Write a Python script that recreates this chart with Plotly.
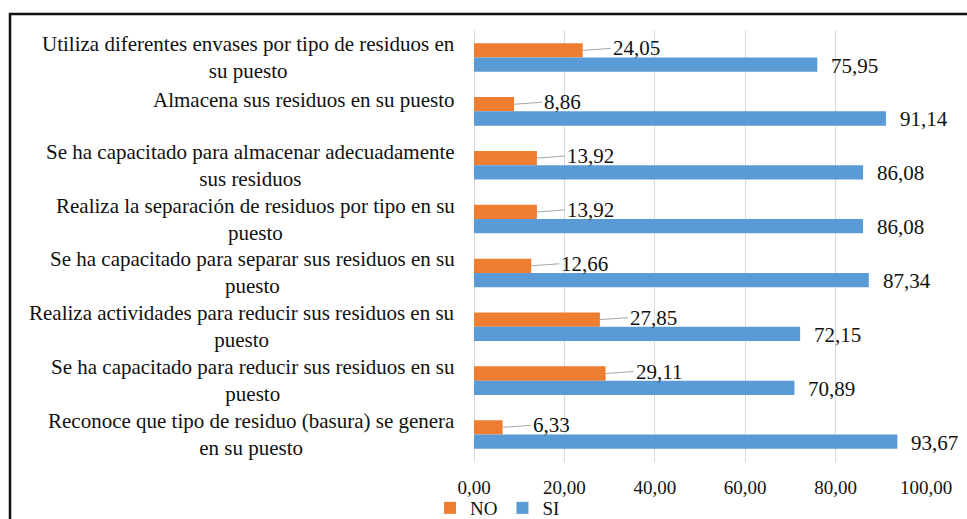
import plotly.graph_objects as go

# ---- data (top to bottom, as shown) ----
categories = [
    "Utiliza diferentes envases por tipo de residuos en<br>su puesto",
    "Almacena sus residuos en su puesto",
    "Se ha capacitado para almacenar adecuadamente<br>sus residuos",
    "Realiza la separación de residuos por tipo en su<br>puesto",
    "Se ha capacitado para separar sus residuos en su<br>puesto",
    "Realiza actividades para reducir sus residuos en su<br>puesto",
    "Se ha capacitado para reducir sus residuos en su<br>puesto",
    "Reconoce que tipo de residuo (basura) se genera<br>en su puesto",
]
no_values = [24.05, 8.86, 13.92, 13.92, 12.66, 27.85, 29.11, 6.33]
si_values = [75.95, 91.14, 86.08, 86.08, 87.34, 72.15, 70.89, 93.67]
x_ticks = [0, 20, 40, 60, 80, 100]

ORANGE = "#ED7D31"
BLUE = "#5B9BD5"
FONT = "Liberation Serif, Times New Roman, serif"
TXT = "#111111"
BARGAP = 0.47

W, H = 967, 519
ML, MR, MT, MB = 474, 41, 30, 57
PW, PH = W - ML - MR, H - MT - MB


def fmt(v):
    return f"{v:.2f}".replace(".", ",")


fig = go.Figure()
fig.add_trace(go.Bar(name="NO", y=categories, x=no_values, orientation="h",
                     marker=dict(color=ORANGE, line=dict(width=0)), hoverinfo="skip"))
fig.add_trace(go.Bar(name="SI", y=categories, x=si_values, orientation="h",
                     marker=dict(color=BLUE, line=dict(width=0)), hoverinfo="skip"))

off = (1 - BARGAP) / 4.0
annotations = []
for i, (cat, n, s) in enumerate(zip(categories, no_values, si_values)):
    # category label (centered lines, right-aligned block)
    annotations.append(dict(
        xref="paper", yref="y", x=0, y=i, xanchor="right", yanchor="middle",
        xshift=-17, yshift=(11 if "<br>" not in cat else 0),
        text=cat, align="center", showarrow=False,
        font=dict(family=FONT, size=21, color=TXT)))
    # NO label with leader line
    annotations.append(dict(
        xref="x", yref="y", x=n, y=i - off, text=fmt(n),
        showarrow=True, arrowhead=0, arrowwidth=1, arrowcolor="#A6A6A6",
        ax=28, ay=-2, axref="pixel", ayref="pixel",
        xanchor="left", yanchor="middle", standoff=0,
        font=dict(family=FONT, size=21, color=TXT)))
    # SI label
    annotations.append(dict(
        xref="x", yref="y", x=s, y=i + off, text=fmt(s),
        showarrow=False, xanchor="left", yanchor="middle", xshift=12, yshift=-1,
        font=dict(family=FONT, size=21, color=TXT)))

fig.update_layout(
    width=W, height=H,
    margin=dict(l=ML, r=MR, t=MT, b=MB, pad=0, autoexpand=False),
    paper_bgcolor="white", plot_bgcolor="white",
    barmode="group", bargap=BARGAP, bargroupgap=0,
    separators=",.",
    font=dict(family=FONT, size=19, color=TXT),
    showlegend=True,
    legend=dict(orientation="h", x=(430 - ML) / PW, xref="paper",
                y=(H - 508) / H, yref="container",
                xanchor="left", yanchor="middle", itemwidth=30,
                font=dict(family=FONT, size=19, color=TXT),
                bgcolor="rgba(0,0,0,0)", traceorder="normal"),
    xaxis=dict(range=[0, 100], tickvals=x_ticks, tickformat=".2f",
               showgrid=True, gridcolor="#D9D9D9", gridwidth=1,
               zeroline=True, zerolinecolor="#D9D9D9", zerolinewidth=1,
               showline=False, ticks="", ticklabelstandoff=12,
               tickfont=dict(family=FONT, size=19, color=TXT), fixedrange=True),
    yaxis=dict(type="category", autorange="reversed", showticklabels=False,
               showgrid=False, zeroline=False, showline=False, ticks="",
               fixedrange=True),
    annotations=annotations,
    shapes=[dict(type="rect", xref="paper", yref="paper",
                 x0=(10 - ML) / PW, x1=(975 - ML) / PW,
                 y0=(MT + PH - 540) / PH, y1=(MT + PH - 14) / PH,
                 line=dict(color="#111111", width=2.5), fillcolor="rgba(0,0,0,0)",
                 layer="above")],
)

fig.write_html(
    "out.html",
    config={"displayModeBar": False},
    post_script="document.body.style.margin='0';document.body.style.padding='0';",
)
